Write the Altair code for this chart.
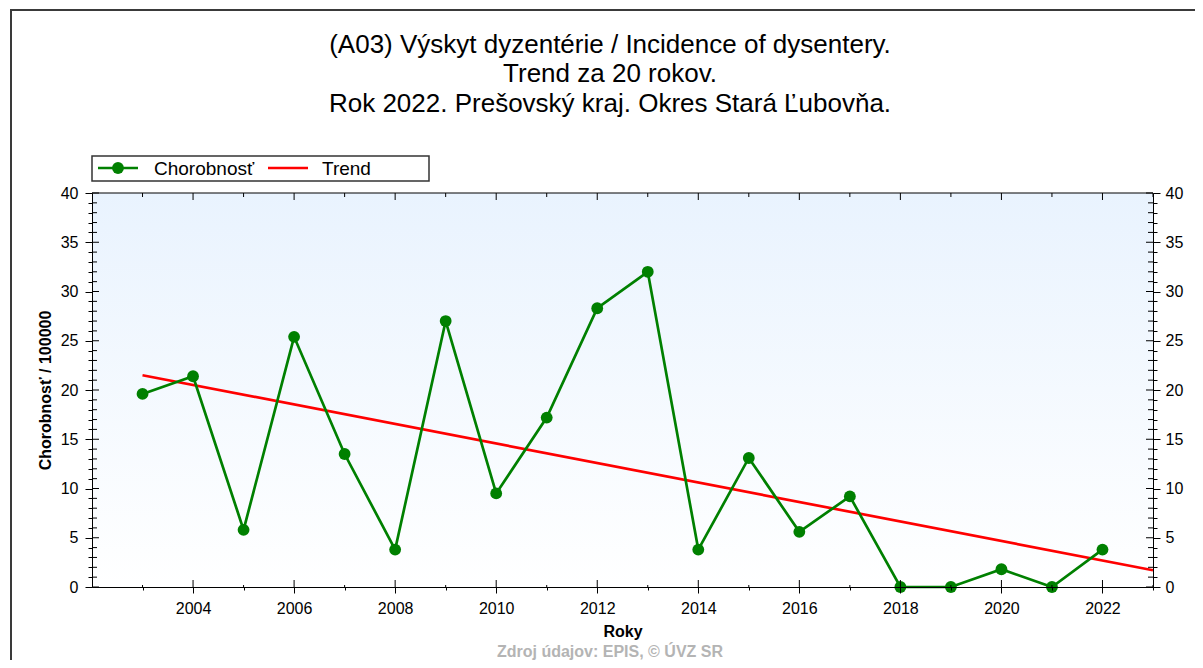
import altair as alt
import pandas as pd

# ---------------- data ----------------
years = list(range(2003, 2023))
rates = [19.6, 21.4, 5.8, 25.4, 13.5, 3.8, 27.0, 9.5, 17.2, 28.3,
         32.0, 3.8, 13.1, 5.6, 9.2, 0.0, 0.0, 1.8, 0.0, 3.8]
trend_years = [2003, 2023]
trend_rates = [21.5, 1.7]
x_ticks = list(range(2003, 2024))
y_ticks = list(range(0, 41))
title_lines = [
    "(A03) Výskyt dyzentérie / Incidence of dysentery.",
    "Trend za 20 rokov.",
    "Rok 2022. Prešovský kraj. Okres Stará Ľubovňa.",
]
legend_labels = ["Chorobnosť", "Trend"]
x_title = "Roky"
y_title = "Chorobnosť / 100000"
source_text = "Zdroj údajov: EPIS, © ÚVZ SR"

# ---------------- styling ----------------
W, H = 1061, 394
FONT = "Liberation Sans"
GREEN = "#008000"
RED = "#ff0000"

pts = pd.DataFrame({"year": years, "rate": rates})
trend = pd.DataFrame({"year": trend_years, "rate": trend_rates})
xt = pd.DataFrame({"year": x_ticks, "major": [v % 2 == 0 for v in x_ticks]})
yt = pd.DataFrame({"v": y_ticks, "major": [v % 5 == 0 for v in y_ticks]})
one = alt.Data(values=[{}])

xscale = alt.Scale(domain=[2002, 2023], nice=False, zero=False)
yscale = alt.Scale(domain=[0, 40], nice=False, zero=True)

x_axis = alt.Axis(
    values=x_ticks, format="d",
    labelExpr="datum.value % 2 === 0 ? datum.label : ''",
    tickSize={"condition": {"test": "datum.value % 2 === 0", "value": 6}, "value": 3},
    tickColor="black", domainColor="black", grid=False,
    labelFont=FONT, labelFontSize=16, labelColor="black", labelPadding=7,
    labelOverlap=False, labelFlush=False,
    title=x_title, titleFont=FONT, titleFontSize=16, titleFontWeight="bold",
    titleColor="black", titlePadding=7, zindex=1,
)

def y_axis(orient, pad):
    return alt.Axis(
        orient=orient, values=y_ticks,
        labelExpr="datum.value % 5 === 0 ? datum.label : ''",
        tickSize={"condition": {"test": "datum.value % 5 === 0", "value": 7}, "value": 4},
        tickColor="black", domainColor="black", grid=False,
        labelFont=FONT, labelFontSize=16, labelColor="black", labelPadding=pad,
        labelOverlap=False, labelFlush=False,
        title=(y_title if orient == "left" else None),
        titleFont=FONT, titleFontSize=16, titleFontWeight="bold",
        titleColor="black", titlePadding=7, zindex=1,
    )

X = alt.X("year:Q", scale=xscale, axis=x_axis)

bg = alt.Chart(one).mark_rect(
    fill=alt.LinearGradient(
        gradient="linear",
        stops=[alt.GradientStop(color="#e9f3fe", offset=0),
               alt.GradientStop(color="#ffffff", offset=1)],
        x1=0, x2=0, y1=0, y2=1)
).encode(x=alt.value(0), x2=alt.value(W), y=alt.value(0), y2=alt.value(H))

trend_layer = alt.Chart(trend).mark_line(color=RED, strokeWidth=2.7).encode(
    x=X, y=alt.Y("rate:Q", scale=yscale, axis=y_axis("right", 5)))

line_layer = alt.Chart(pts).mark_line(
    color=GREEN, strokeWidth=2.7,
    point=alt.OverlayMarkDef(filled=True, size=140, color=GREEN, opacity=1)
).encode(x=X, y=alt.Y("rate:Q", scale=yscale, axis=y_axis("left", 7)))

def xtick(major, y0, y1):
    return alt.Chart(xt).transform_filter(
        "datum.major" if major else "!datum.major"
    ).mark_rule(color="black", strokeWidth=1).encode(
        x=X, y=alt.value(y0), y2=alt.value(y1))

def ytick(major, x0, x1):
    return alt.Chart(yt).transform_filter(
        "datum.major" if major else "!datum.major"
    ).mark_rule(color="black", strokeWidth=1).encode(
        y=alt.Y("v:Q", scale=yscale, axis=None), x=alt.value(x0), x2=alt.value(x1))

ticks = [
    xtick(True, 0, 7), xtick(False, 0, 4),
    xtick(True, H - 7, H), xtick(False, H - 2, H),
    ytick(True, 0, 7), ytick(False, 0, 5),
    ytick(True, W - 7, W), ytick(False, W - 5, W),
]

top_border = alt.Chart(one).mark_rule(color="black", strokeWidth=1).encode(
    x=alt.value(0), x2=alt.value(W), y=alt.value(0))

# legend
leg_box = alt.Chart(one).mark_rect(fill="white", stroke="#333333", strokeWidth=1.5).encode(
    x=alt.value(0), x2=alt.value(337), y=alt.value(-37), y2=alt.value(-12))
leg_g = alt.Chart(one).mark_rule(color=GREEN, strokeWidth=2.7).encode(
    x=alt.value(6), x2=alt.value(46), y=alt.value(-25))
leg_dot = alt.Chart(one).mark_point(filled=True, size=140, color=GREEN, opacity=1).encode(
    x=alt.value(26), y=alt.value(-25))
leg_t1 = alt.Chart(one).mark_text(align="left", baseline="middle", font=FONT, fontSize=19,
                                  color="black", text=legend_labels[0]).encode(
    x=alt.value(62), y=alt.value(-24))
leg_r = alt.Chart(one).mark_rule(color=RED, strokeWidth=2.7).encode(
    x=alt.value(176), x2=alt.value(216), y=alt.value(-25))
leg_t2 = alt.Chart(one).mark_text(align="left", baseline="middle", font=FONT, fontSize=19,
                                  color="black", text=legend_labels[1]).encode(
    x=alt.value(230), y=alt.value(-24))

# titles
title_y = [-148, -119, -89]
titles = [
    alt.Chart(one).mark_text(align="center", baseline="middle", font=FONT, fontSize=26,
                             color="black", text=t).encode(x=alt.value(518), y=alt.value(yy))
    for t, yy in zip(title_lines, title_y)
]

source = alt.Chart(one).mark_text(align="center", baseline="middle", font=FONT, fontSize=16,
                                  fontWeight="bold", color="#b4b4b4", text=source_text).encode(
    x=alt.value(518), y=alt.value(459))

frame_top = alt.Chart(one).mark_rule(color="#3a3a3a", strokeWidth=2).encode(
    x=alt.value(-82), x2=alt.value(1111), y=alt.value(-183))
frame_left = alt.Chart(one).mark_rule(color="#3a3a3a", strokeWidth=2).encode(
    x=alt.value(-81), y=alt.value(-184), y2=alt.value(480))

chart = alt.layer(
    bg, trend_layer, line_layer, *ticks, top_border,
    leg_box, leg_g, leg_dot, leg_t1, leg_r, leg_t2,
    *titles, source, frame_top, frame_left,
).resolve_scale(y="independent").properties(
    width=W, height=H,
    padding={"left": 84, "top": 185, "right": 42, "bottom": 73},
    autosize=alt.AutoSizeParams(type="none"),
).configure_view(stroke="black", strokeWidth=1).configure(background="white")

chart.save("out.html", embed_options={"renderer": "svg", "actions": False})
